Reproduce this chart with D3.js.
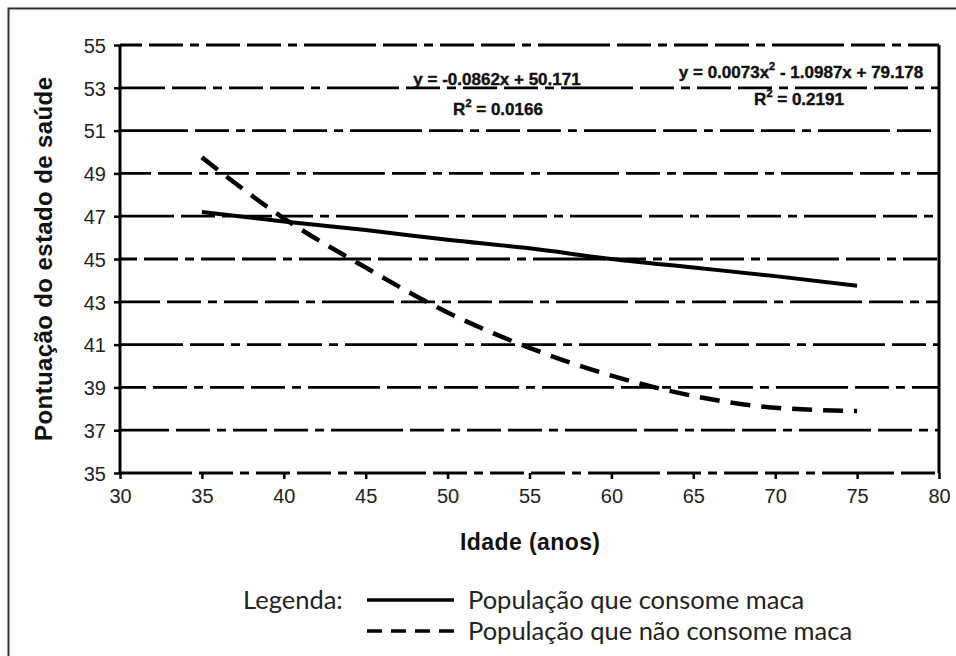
<!DOCTYPE html>
<html>
<head>
<meta charset="utf-8">
<script src="https://cdn.jsdelivr.net/npm/d3@7"></script>
<style>
  body { margin: 0; background: #fff; }
  .tick text { font-family: "Liberation Sans", Arial, sans-serif; font-size: 20px; fill: #222; }
</style>
</head>
<body>
<div id="chart"></div>
<script>
// data
var ages = [35, 40, 45, 50, 55, 60, 65, 70, 75];
var consomeMaca = [47.2, 46.75, 46.35, 45.9, 45.5, 45.0, 44.6, 44.2, 43.75];
var naoConsomeMaca = [49.75, 46.9, 44.6, 42.5, 40.85, 39.55, 38.6, 38.05, 37.9];
var xTicks = [30, 35, 40, 45, 50, 55, 60, 65, 70, 75, 80];
var yTicks = [35, 37, 39, 41, 43, 45, 47, 49, 51, 53, 55];
var eqLinear = ["y = -0.0862x + 50.171", "0.0166"];
var eqPoly = ["y = 0.0073x", " - 1.0987x + 79.178", "0.2191"];
var legendLabels = ["População que consome maca", "População que não consome maca"];

var width = 956, height = 656;
var margin = {top: 45, right: 17, bottom: 183, left: 120};
var _width = width - margin.left - margin.right,
    _height = height - margin.top - margin.bottom;

var svg = d3.select("#chart")
    .append("svg")
    .attr("width", width)
    .attr("height", height);

// outer frame (runs off the right and bottom)
svg.append("rect")
    .attr("x", 8.5).attr("y", 8.5)
    .attr("width", 1000).attr("height", 700)
    .attr("fill", "none")
    .attr("stroke", "#333")
    .attr("stroke-width", 2);

var g = svg.append("g")
    .attr("transform", "translate(" + margin.left + "," + margin.top + ")");

var xScale = d3.scaleLinear().domain([30, 80]).range([0, _width]);
var yScale = d3.scaleLinear().domain([35, 55]).range([_height, 0]);

// dashed gridlines (incl. bottom line at 35)
var gridDash = "72,7,34,7,9,7,34,7,34,7,9,7";
g.selectAll(".grid")
    .data(yTicks)
    .enter().append("line")
    .attr("class", "grid")
    .attr("x1", 0).attr("x2", _width)
    .attr("y1", function(d) { return yScale(d); })
    .attr("y2", function(d) { return yScale(d); })
    .attr("stroke", "#000")
    .attr("stroke-width", 2.8)
    .attr("stroke-dasharray", gridDash)
    .attr("stroke-dashoffset", function(d, i) { return (i * 23) % 60; });

// x axis ticks and labels
var xAxis = g.append("g")
    .attr("transform", "translate(0," + _height + ")")
    .call(d3.axisBottom(xScale).tickValues(xTicks).tickSize(6).tickPadding(10).tickFormat(d3.format("d")));
xAxis.select(".domain").remove();
xAxis.selectAll(".tick line").attr("stroke", "#000").attr("stroke-width", 2.5);

// y axis
var yAxis = g.append("g")
    .call(d3.axisLeft(yScale).tickValues(yTicks).tickSize(6).tickPadding(8).tickFormat(d3.format("d")));
yAxis.select(".domain").attr("stroke", "#000").attr("stroke-width", 3).attr("d", "M0,0V" + _height);
yAxis.selectAll(".tick line").attr("stroke", "#000").attr("stroke-width", 2.5);
yAxis.selectAll(".tick text").attr("dy", "0.36em");

// right border of plot area
g.append("line")
    .attr("x1", _width).attr("x2", _width)
    .attr("y1", 0).attr("y2", _height)
    .attr("stroke", "#000")
    .attr("stroke-width", 3);

// series lines
var line = d3.line()
    .x(function(d) { return xScale(d[0]); })
    .y(function(d) { return yScale(d[1]); })
    .curve(d3.curveMonotoneX);

g.append("path")
    .datum(d3.zip(ages, consomeMaca))
    .attr("fill", "none")
    .attr("stroke", "#000")
    .attr("stroke-width", 4)
    .attr("d", line);

g.append("path")
    .datum(d3.zip(ages, naoConsomeMaca))
    .attr("fill", "none")
    .attr("stroke", "#000")
    .attr("stroke-width", 4.5)
    .attr("stroke-dasharray", "20,11")
    .attr("d", line);

// trendline equations
var eqFont = "'Liberation Sans', Arial, sans-serif";
function eqText(x, y) {
    return svg.append("text")
        .attr("x", x).attr("y", y)
        .attr("text-anchor", "middle")
        .attr("font-family", eqFont)
        .attr("font-weight", "bold")
        .attr("font-size", 17)
        .attr("fill", "#111")
        .attr("stroke", "#111")
        .attr("stroke-width", 0.4);
}
function r2Text(x, y, val) {
    var t = eqText(x, y);
    t.append("tspan").text("R");
    t.append("tspan").attr("font-size", 11).attr("dy", -8).text("2");
    t.append("tspan").attr("dy", 8).text(" = " + val);
}

eqText(497, 85).text(eqLinear[0]);
r2Text(498, 115, eqLinear[1]);

var tp = eqText(801, 78);
tp.append("tspan").text(eqPoly[0]);
tp.append("tspan").attr("font-size", 11).attr("dy", -8).text("2");
tp.append("tspan").attr("dy", 8).text(eqPoly[1]);
r2Text(799, 105, eqPoly[2]);

// axis titles
svg.append("text")
    .attr("transform", "translate(52," + (margin.top + _height / 2) + ") rotate(-90)")
    .attr("text-anchor", "middle")
    .attr("font-family", eqFont)
    .attr("font-weight", "bold")
    .attr("font-size", 24)
    .attr("textLength", 364)
    .attr("lengthAdjust", "spacing")
    .attr("fill", "#111")
    .text("Pontuação do estado de saúde");

svg.append("text")
    .attr("x", 530).attr("y", 550)
    .attr("text-anchor", "middle")
    .attr("font-family", eqFont)
    .attr("font-weight", "bold")
    .attr("font-size", 23)
    .attr("textLength", 140)
    .attr("lengthAdjust", "spacing")
    .attr("fill", "#111")
    .text("Idade (anos)");

// legend
var legFont = "Lato, 'Open Sans', sans-serif";
svg.append("text")
    .attr("x", 243).attr("y", 609)
    .attr("font-family", legFont)
    .attr("font-size", 25.5)
    .attr("fill", "#222")
    .text("Legenda:");

var legY = [600, 631];
legY.forEach(function(y, i) {
    svg.append("line")
        .attr("x1", 367).attr("x2", 454)
        .attr("y1", y).attr("y2", y)
        .attr("stroke", "#000")
        .attr("stroke-width", 3.5)
        .attr("stroke-dasharray", i === 0 ? null : "15,9");
    svg.append("text")
        .attr("x", 468).attr("y", y + 9)
        .attr("font-family", legFont)
        .attr("font-size", 25.5)
        .attr("fill", "#222")
        .text(legendLabels[i]);
});
</script>
</body>
</html>
